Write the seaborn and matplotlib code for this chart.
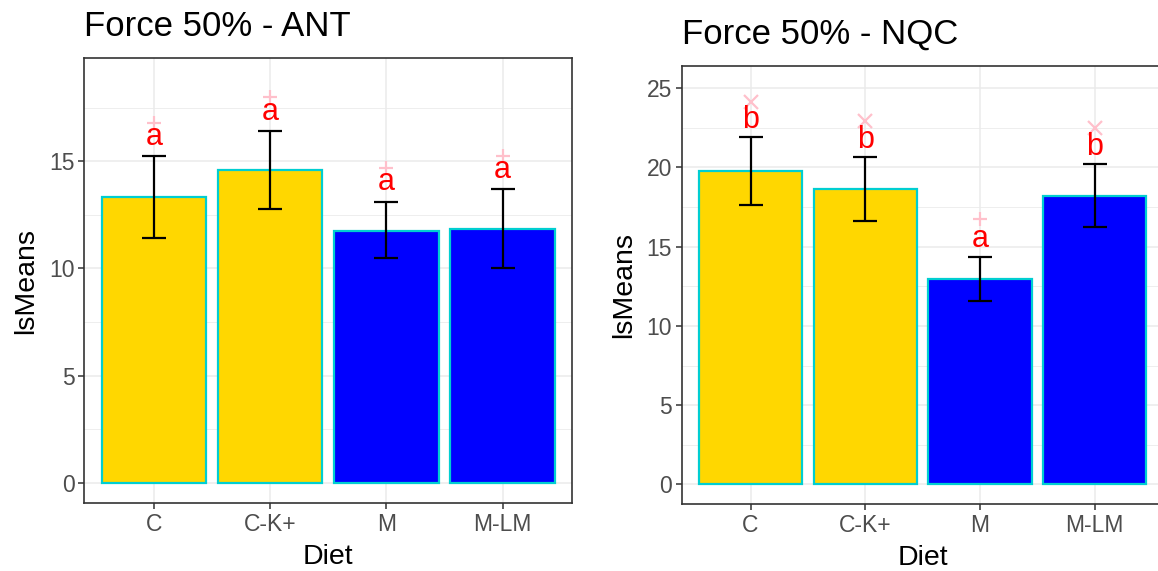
import matplotlib
matplotlib.use("Agg")
import matplotlib.pyplot as plt
from matplotlib.ticker import MultipleLocator
import seaborn as sns
import pandas as pd
import numpy as np

# ---- data ----
diet = ["C", "C-K+", "M", "M-LM"]

ant_mean = [13.35, 14.60, 11.76, 11.84]
ant_lower = [11.42, 12.76, 10.48, 10.02]
ant_upper = [15.26, 16.42, 13.10, 13.69]
ant_letters = ["a", "a", "a", "a"]
ant_letter_y = [15.76, 16.92, 13.66, 14.20]
ant_marker_y = [16.80, 18.00, 14.70, 15.26]
ant_markers = ["+", "+", "+", "+"]

nqc_mean = [19.80, 18.66, 12.98, 18.20]
nqc_lower = [17.65, 16.64, 11.59, 16.22]
nqc_upper = [21.94, 20.64, 14.37, 20.22]
nqc_letters = ["b", "b", "a", "b"]
nqc_letter_y = [22.51, 21.21, 14.96, 20.79]
nqc_marker_y = [24.15, 22.95, 16.77, 22.47]
nqc_markers = ["x", "x", "+", "x"]

titles = ["Force 50% - ANT", "Force 50% - NQC"]
palette = {"C": "#FFD700", "C-K+": "#FFD700", "M": "#0000FF", "M-LM": "#0000FF"}

sns.set_theme(style="white")
plt.rcParams["font.family"] = ["Liberation Sans", "DejaVu Sans"]

fig = plt.figure(figsize=(11.58, 5.71), dpi=100)
ax1 = fig.add_axes([0.0728, 0.1186, 0.4214, 0.7793])
ax2 = fig.add_axes([0.5887, 0.1168, 0.4160, 0.7684])

panels = [
    (ax1, ant_mean, ant_lower, ant_upper, ant_letters, ant_letter_y, ant_marker_y, ant_markers, (-0.946, 19.80), [0, 5, 10, 15]),
    (ax2, nqc_mean, nqc_lower, nqc_upper, nqc_letters, nqc_letter_y, nqc_marker_y, nqc_markers, (-1.26, 26.43), [0, 5, 10, 15, 20, 25]),
]

for i, (ax, mean, lo, up, letters, ly, my, mk, ylim, yt) in enumerate(panels):
    df = pd.DataFrame({"Diet": diet, "lsMeans": mean})
    sns.barplot(data=df, x="Diet", y="lsMeans", hue="Diet", palette=palette,
                saturation=1, width=0.9, edgecolor="#00CED1", linewidth=1.6,
                errorbar=None, legend=False, ax=ax, zorder=3)
    pos = np.arange(len(diet))
    mean_a = np.array(mean)
    ax.errorbar(pos, mean_a, yerr=[mean_a - np.array(lo), np.array(up) - mean_a],
                fmt="none", ecolor="black", elinewidth=1.6, capsize=8.5,
                capthick=1.6, zorder=4)
    for p, m, yy in zip(pos, mk, my):
        ax.plot(p, yy, marker=m, color="#FFC0CB", markersize=10.5, mew=1.6,
                linestyle="none", zorder=5)
    for p, t, yy in zip(pos, letters, ly):
        ax.text(p, yy, t, color="red", fontsize=22, ha="center", va="baseline", zorder=6)

    ax.set_xlim(-0.6, 3.6)
    ax.set_ylim(*ylim)
    ax.set_yticks(yt)
    ax.yaxis.set_minor_locator(MultipleLocator(2.5))
    ax.set_axisbelow(True)
    ax.grid(True, which="major", color="#EBEBEB", linewidth=1.1, zorder=0)
    ax.grid(True, which="minor", axis="y", color="#EBEBEB", linewidth=0.6, zorder=0)
    for s in ax.spines.values():
        s.set_color("#333333")
        s.set_linewidth(1.2)
    ax.tick_params(axis="both", which="major", length=4, width=1.1, color="#333333",
                   labelcolor="#4D4D4D", labelsize=16.5, left=True, bottom=True, pad=3)
    ax.tick_params(axis="both", which="minor", length=0)
    ax.set_xlabel("Diet", fontsize=20.5, color="black", labelpad=6)
    ax.set_ylabel("lsMeans", fontsize=20.5, color="black", labelpad=7)
    ax.set_title(titles[i], loc="left", fontsize=25, color="black", pad=16)

fig.savefig("out.png", dpi=100)
